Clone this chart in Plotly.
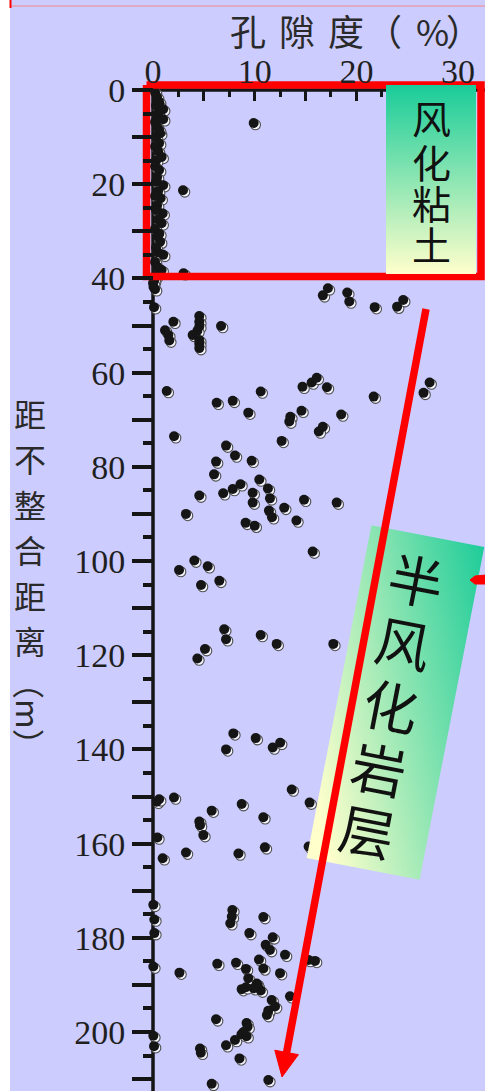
import base64
import plotly.graph_objects as go

# ---- data: porosity (%) versus distance below the unconformity (m) ----
porosity = [
    # weathered clay column, 0-42 m
    0.2, 0.4, 0.6, 1.0, 0.3, 0.5, 1.0, 0.2, 0.4, 0.7, 0.3, 0.6, 0.2, 0.5, 0.85,
    0.3, 0.6, 0.2, 0.4, 1.0, 0.3, 0.5, 0.75, 0.2, 0.4, 0.95, 0.3, 0.85, 0.5, 0.2,
    0.7, 0.4, 0.3, 1.0, 0.5, 0.2, 0.85, 0.4, 0.3, 0.1, 0.05, 0.62, 0.62, 0.6,
    9.9, 2.95, 3.0,
    # semi-weathered rock
    0.0, 0.2, 0.1,
    2.0, 1.18, 1.5, 1.6,
    4.55, 4.55, 4.55, 4.36, 3.9, 4.55, 4.55, 4.55, 6.69,
    16.7, 17.2, 19.1, 19.3, 21.8, 24.0, 24.6,
    27.2, 26.6, 1.35, 2.07,
    6.26, 7.84, 9.37, 10.59, 14.7, 15.6, 16.1, 17.1,
    14.6, 13.5, 13.4, 18.5, 16.7, 16.3, 12.65, 21.7,
    7.18, 8.06, 9.7, 6.2, 6.0,
    6.9, 7.84, 8.6, 4.55, 3.24,
    10.45, 9.8, 11.3, 9.8, 11.5, 12.9, 14.85, 18.06,
    11.4, 11.7, 9.1, 10.0, 14.1,
    15.7,
    2.56, 4.06, 5.38, 4.72, 6.52,
    7.0, 7.18, 4.36, 5.11, 10.59, 12.16, 17.73,
    7.9, 7.18, 10.1, 11.77, 12.5,
    0.36, 0.6, 2.06, 5.77, 8.72, 13.64, 15.4,
    4.55, 4.62, 4.95, 10.85, 0.43, 0.95, 3.24, 8.4, 11.0, 15.3,
    0.03, 0.13, 0.13, 0.03, 2.6,
    7.8, 7.75, 7.6, 10.85, 9.47, 11.77, 11.08, 11.5, 12.98,
    15.93, 15.3,
    6.32, 8.16, 9.14, 10.42, 10.85, 12.49,
    9.37, 10.2, 10.6, 9.9, 8.72, 9.14, 10.3,
    13.47, 11.67, 12.0, 11.33, 11.2,
    6.2, 9.2, 9.3, 8.9, 9.2, 8.7,
    8.06, 7.18, 4.62, 4.7, 8.5, 5.77, 11.34,
    0.03, 0.1,
]
distance = [
    0.5, 1.5, 2.5, 4.1, 3.3, 5.0, 6.2, 6.8, 7.8, 9.2, 10.0, 11.3, 12.0, 13.0, 14.2,
    15.0, 17.0, 16.2, 18.5, 20.2, 19.5, 21.5, 23.0, 22.5, 24.5, 26.2, 25.5, 28.3, 27.5, 29.5,
    32.2, 31.0, 33.5, 35.0, 34.5, 36.5, 38.2, 37.5, 39.5, 40.5, 41.8, 3.2, 30.5, 8.5,
    7.0, 21.3, 38.9,
    41.0, 42.3, 46.1,
    49.2, 51.0, 52.0, 53.2,
    48.0, 49.2, 50.2, 51.1, 52.0, 53.1, 53.9, 54.8, 50.1,
    43.6, 42.1, 43.0, 44.9, 46.1, 46.0, 44.6,
    62.1, 64.3, 63.9, 73.5,
    66.4, 66.0, 68.5, 64.0, 63.0, 62.1, 61.1, 63.1,
    68.1, 69.4, 70.4, 68.9, 71.5, 72.5, 74.5, 65.1,
    75.5, 77.6, 78.7, 78.9, 81.6,
    85.6, 84.7, 83.7, 86.1, 90.0,
    82.7, 85.5, 84.6, 87.6, 86.7, 88.7, 87.0, 87.6,
    89.3, 90.7, 91.9, 92.5, 91.4,
    98.0,
    101.9, 99.9, 101.1, 105.1, 104.2,
    114.5, 116.6, 120.7, 118.7, 115.7, 117.6, 117.6,
    136.6, 140.0, 137.6, 139.6, 138.6,
    151.1, 150.6, 150.2, 153.0, 151.6, 148.5, 151.3,
    155.3, 156.1, 158.2, 154.4, 158.7, 163.1, 161.9, 162.1, 160.8, 160.6,
    173.0, 176.1, 179.0, 186.1, 187.4,
    174.1, 175.5, 176.9, 175.6, 179.0, 179.9, 181.5, 182.6, 183.6,
    184.9, 184.7,
    185.5, 185.3, 186.6, 184.6, 186.5, 187.5,
    188.6, 189.7, 191.2, 190.7, 190.9, 190.5, 190.2,
    192.4, 193.2, 194.6, 195.5, 196.4,
    197.3, 198.1, 198.9, 200.0, 200.9, 200.5,
    201.7, 202.8, 203.5, 204.4, 205.6, 211.0, 210.2,
    200.8, 203.0,
]

x_tick_values = [0, 5, 10, 15, 20, 25, 30]
x_tick_labels = ["0", "", "10", "", "20", "", "30"]
y_tick_values = list(range(0, 211, 10))
y_tick_labels = [str(v) if v % 20 == 0 else "" for v in y_tick_values]

x_title_chars = ["孔", "隙", "度", "（", "%", "）"]
y_title_chars = ["距", "不", "整", "合", "距", "离"]
y_title_unit = "（m）"
clay_label = ["风", "化", "粘", "土"]
rock_label = ["半", "风", "化", "岩", "层"]

# ---- page geometry (pixels) ----
W, H = 485, 1091
X0_PX, Y0_PX = 153, 90          # where porosity 0 / distance 0 sit on the page
PX_PER_X, PX_PER_Y = 10.17, 4.71

x_range = [-X0_PX / PX_PER_X, (W - X0_PX) / PX_PER_X]
y_range = [(H - Y0_PX) / PX_PER_Y, -Y0_PX / PX_PER_Y]


def dx(px):
    return (px - X0_PX) / PX_PER_X


def dy(py):
    return (py - Y0_PX) / PX_PER_Y


def fx(px):
    return px / W


def fy(py):
    return 1 - py / H


BG = "#CCCCFF"
RED = "#FF0000"
INK = "#151515"
CJK = "Noto Sans CJK SC"
SERIF = "Liberation Serif"

fig = go.Figure()

# shadow ring under each dot
fig.add_trace(go.Scatter(
    x=[v + dx(X0_PX + 1.8) for v in porosity],
    y=[v + dy(Y0_PX + 1.8) for v in distance],
    mode="markers", cliponaxis=False, hoverinfo="skip",
    marker=dict(size=10, color="#F4F4FF", line=dict(color="#505050", width=1.1)),
))
# the samples
fig.add_trace(go.Scatter(
    x=porosity, y=distance, mode="markers", cliponaxis=False,
    marker=dict(size=10, color=INK, line=dict(width=0)),
))
# red frame round the weathered clay zone
bx = [dx(146.5), dx(481), dx(481), dx(146.5), dx(146.5)]
by = [dy(85), dy(85), dy(276.5), dy(276.5), dy(85)]
fig.add_trace(go.Scatter(x=bx, y=by, mode="lines", hoverinfo="skip",
                         line=dict(color=RED, width=7.5)))

# gradient label panels
cx, cy, bw, bh, ang = 395.5, 702.5, 115, 339, 11.0
svg = f"""<svg xmlns="http://www.w3.org/2000/svg" width="{W}" height="{H}" viewBox="0 0 {W} {H}" preserveAspectRatio="none">
<defs>
<linearGradient id="clay" x1="0" y1="0" x2="0" y2="1">
<stop offset="0" stop-color="#19CC99"/><stop offset="1" stop-color="#FFFFCC"/>
</linearGradient>
<linearGradient id="rock" x1="1" y1="0" x2="0.2" y2="1">
<stop offset="0" stop-color="#1ECC99"/><stop offset="1" stop-color="#FFFFCC"/>
</linearGradient>
</defs>
<rect x="386" y="85" width="90" height="189" fill="url(#clay)"/>
<g transform="rotate({ang} {cx} {cy})">
<rect x="{cx - bw / 2}" y="{cy - bh / 2}" width="{bw}" height="{bh}" fill="url(#rock)"/>
</g>
</svg>"""
src = "data:image/svg+xml;base64," + base64.b64encode(svg.encode("utf-8")).decode()

shapes = [
    # white strip on the left edge and thin line along the top
    dict(type="rect", xref="paper", yref="paper", x0=0, x1=fx(10), y0=0, y1=1,
         fillcolor="white", line=dict(width=0), layer="below"),
    dict(type="line", xref="paper", yref="paper", x0=fx(10), x1=1, y0=fy(6), y1=fy(6),
         line=dict(color="#F08888", width=1), layer="below"),
    dict(type="line", xref="paper", yref="paper", x0=fx(10.5), x1=fx(10.5), y0=fy(0), y1=fy(8),
         line=dict(color=RED, width=2), layer="below"),
    # axis lines
    dict(type="line", x0=0, x1=0, y0=0, y1=y_range[0],
         line=dict(color=INK, width=3.5), layer="below"),
    dict(type="line", x0=0, x1=x_range[1], y0=0, y1=0,
         line=dict(color=INK, width=3.5), layer="below"),
]

# long red arrow through the semi-weathered rock
tail = (426, 309)
tip = (282, 1077)
vx, vy = tip[0] - tail[0], tip[1] - tail[1]
ln = (vx ** 2 + vy ** 2) ** 0.5
ux, uy = vx / ln, vy / ln
head_len, head_half = 25, 12
bcx, bcy = tip[0] - head_len * ux, tip[1] - head_len * uy
shapes.append(dict(type="line", x0=dx(tail[0]), y0=dy(tail[1]),
                   x1=dx(bcx + 3 * ux), y1=dy(bcy + 3 * uy),
                   line=dict(color=RED, width=7.5), layer="above"))
p1 = (bcx - head_half * uy, bcy + head_half * ux)
p2 = (bcx + head_half * uy, bcy - head_half * ux)
shapes.append(dict(
    type="path", layer="above", fillcolor=RED, line=dict(color=RED, width=1),
    path=(f"M {dx(tip[0])},{dy(tip[1])} L {dx(p1[0])},{dy(p1[1])} "
          f"L {dx(p2[0])},{dy(p2[1])} Z"),
))
# stub of a second arrow entering from the right edge
shapes.append(dict(
    type="path", layer="above", fillcolor=RED, line=dict(color=RED, width=1),
    path=(f"M {dx(470)},{dy(580)} L {dx(475)},{dy(576)} L {dx(486)},{dy(575)} "
          f"L {dx(486)},{dy(584)} L {dx(475)},{dy(584)} Z"),
))

annotations = []


def label(text, px, py, size, angle=0, family=CJK, color="#1a1a1a", anchor="center"):
    annotations.append(dict(
        text=text, xref="paper", yref="paper", x=fx(px), y=fy(py),
        xanchor=anchor, yanchor="middle", showarrow=False, textangle=angle,
        font=dict(family=family, size=size, color=color),
    ))


# top axis title
for ch, px in zip(x_title_chars[:-1], [248, 297, 346, 384, 432]):
    label(ch, px, 30, 36, color="#2a2a2a")
label(x_title_chars[-1], 484, 30, 36, color="#2a2a2a", anchor="right")

# left axis title, stacked upright
for i, ch in enumerate(y_title_chars):
    label(ch, 30, 413 + 45.4 * i, 32, color="#2a2a2a")
label(y_title_unit, 30, 714, 32, angle=90, color="#2a2a2a")

# clay panel label, tightly stacked characters
for ch, py in zip(clay_label, [116.7, 160.7, 201.7, 243.3]):
    label(ch, 431, py, 39, color="#111")

step = 64
sx, sy = -0.1908, 0.9816        # unit vector along the tilted panel
mid = (391.7, 703.7)
for i, ch in enumerate(rock_label):
    k = i - 2
    label(ch, mid[0] + k * step * sx, mid[1] + k * step * sy, 55, angle=ang, color="#111")

fig.update_layout(
    width=W, height=H,
    margin=dict(l=0, r=0, t=0, b=0),
    paper_bgcolor=BG, plot_bgcolor=BG,
    showlegend=False,
    shapes=shapes,
    annotations=annotations,
    images=[dict(source=src, xref="paper", yref="paper", x=0, y=1, sizex=1, sizey=1,
                 xanchor="left", yanchor="top", sizing="stretch", layer="above")],
    xaxis=dict(
        range=x_range, side="top", anchor="free", position=fy(Y0_PX),
        showline=False, showgrid=False, zeroline=False,
        tickmode="array", tickvals=x_tick_values, ticktext=x_tick_labels,
        ticks="inside", ticklen=10, tickwidth=3, tickcolor=INK,
        tickfont=dict(family=SERIF, size=34, color="#1f1f1f"),
        minor=dict(tickmode="array", tickvals=[2.5 + 5 * i for i in range(6)],
                   ticks="inside", ticklen=6, tickwidth=3, tickcolor=INK),
    ),
    yaxis=dict(
        range=y_range, side="left", anchor="free", position=fx(X0_PX),
        showline=False, showgrid=False, zeroline=False,
        tickmode="array", tickvals=y_tick_values, ticktext=y_tick_labels,
        ticks="outside", ticklen=21, tickwidth=3.5, tickcolor=INK,
        tickfont=dict(family=SERIF, size=34, color="#1f1f1f"),
        minor=dict(tickmode="array", tickvals=[5 + 10 * i for i in range(21)],
                   ticks="outside", ticklen=10, tickwidth=3.5, tickcolor=INK),
    ),
)

fig.write_html("out.html")
